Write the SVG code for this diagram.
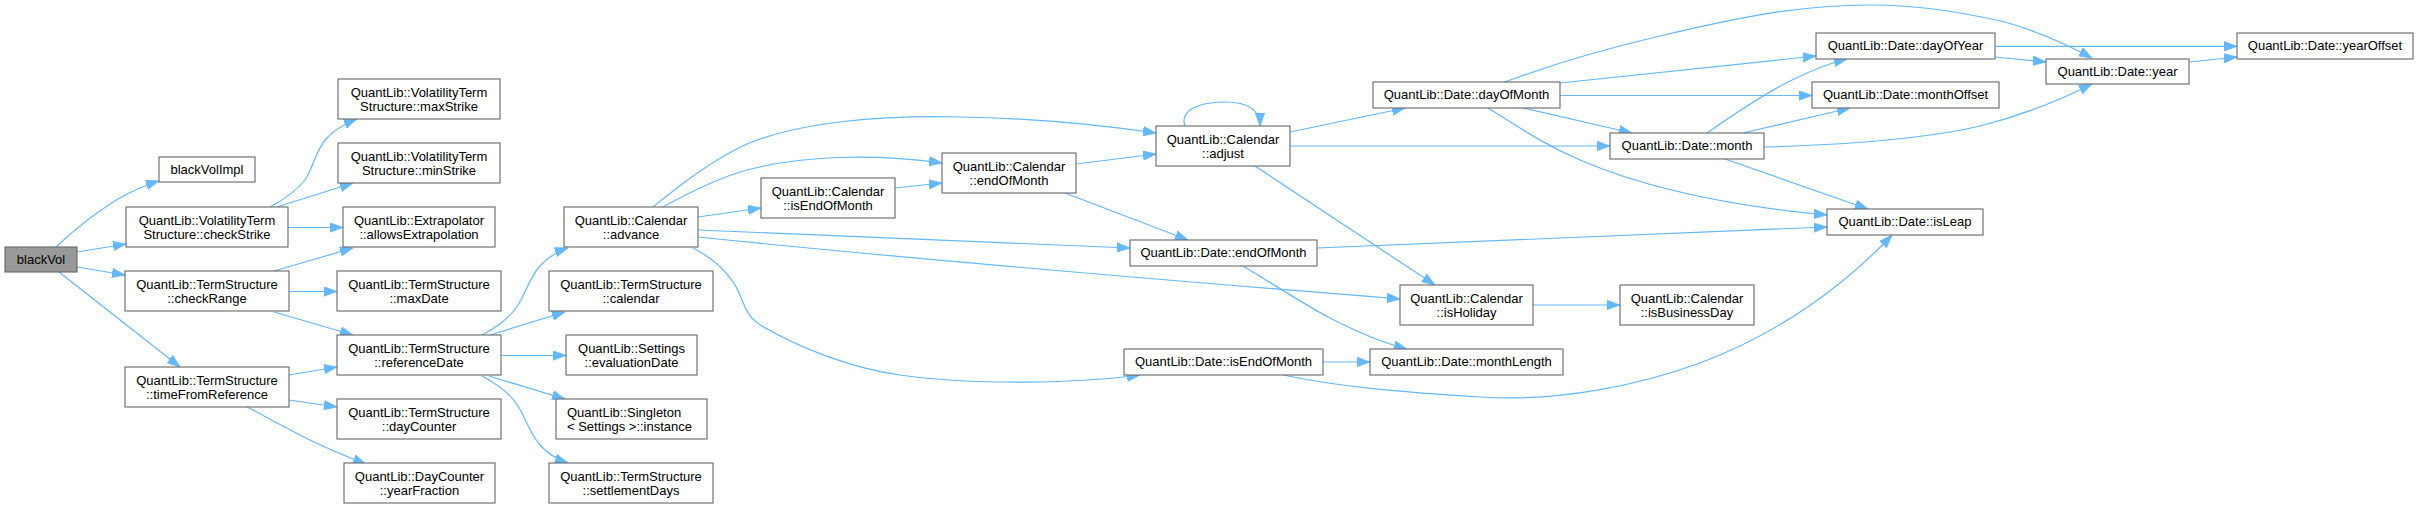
<svg xmlns="http://www.w3.org/2000/svg" width="2419" height="509" viewBox="0 0 2419 509">
<style>
.node rect{fill:#ffffff;stroke:#666666;stroke-width:1.1}
.node.root rect{fill:#999999}
.node text{font-family:"Liberation Sans",Arial,Helvetica,sans-serif;font-size:13px;fill:#000000;text-anchor:middle}
.node text.l{text-anchor:start}
#edges path{fill:none;stroke:#63b8ff;stroke-width:1.2;marker-end:url(#arr)}
</style>
<defs>
<marker id="arr" viewBox="0 0 13 10" refX="13" refY="5" markerWidth="13" markerHeight="10" markerUnits="userSpaceOnUse" orient="auto">
<path d="M0,0.3 L13,5 L0,9.7 Z" fill="#63b8ff" stroke="#63b8ff" stroke-width="0.8"/>
</marker>
</defs>
<rect x="0" y="0" width="2419" height="509" fill="#ffffff"/>
<g id="edges">
<path d="M56,247 C76,228 100,210 118,199 C130,192 143,186 159,181"/>
<path d="M77,252 L126,244"/>
<path d="M77,267 L125,275"/>
<path d="M59,272 L180,367"/>
<path d="M270,207 C285,199 297,190 305,180 C313,168 316,150 326,139 C333,131 342,125 357,119"/>
<path d="M277,207 L353,183"/>
<path d="M288,227.5 L343,227.5"/>
<path d="M274,271 L353,248"/>
<path d="M289,291.5 L337,291.5"/>
<path d="M274,312 L353,335"/>
<path d="M289,375 L337,367"/>
<path d="M289,400 L337,407"/>
<path d="M247,407 C268,418 292,431 310,440 C326,448 345,456 366,464"/>
<path d="M482,335 C497,327 510,318 518,305 C526,292 530,277 540,266 C547,258 556,252 568,248"/>
<path d="M490,335 L565,312"/>
<path d="M501,355.5 L566,355.5"/>
<path d="M489,376 L565,399"/>
<path d="M482,376 C497,384 510,393 518,406 C526,419 530,434 540,445 C547,453 556,459 568,463"/>
<path d="M653,207 C680,185 712,160 747,144 C800,122 880,115 960,117 C1030,118 1100,125 1156,133"/>
<path d="M663,207 C690,192 718,178 747,170 C800,156 870,153 942,163"/>
<path d="M698,217 L761,208"/>
<path d="M698,230 L1130,248"/>
<path d="M698,237 C900,258 1100,275 1400,299"/>
<path d="M693,248 C720,262 735,280 742,300 C748,315 752,320 762,326 C800,348 850,368 900,375 C980,386 1080,383 1140,375"/>
<path d="M895,188 L942,183"/>
<path d="M1076,164 L1156,154"/>
<path d="M1065,193 L1188,240"/>
<path d="M1185,126 C1180,112 1195,102 1225,102 C1245,102 1260,108 1260,126"/>
<path d="M1290,132 L1405,108"/>
<path d="M1290,146 L1610,146"/>
<path d="M1255,166 L1435,285"/>
<path d="M1317,248 L1827,227"/>
<path d="M1243,266 C1270,282 1305,305 1330,318 C1355,331 1380,342 1407,349"/>
<path d="M1323,362 L1370,362"/>
<path d="M1283,375 C1340,387 1400,392 1480,397 C1560,402 1640,385 1700,363 C1780,333 1845,285 1892,235"/>
<path d="M1560,83 L1816,56"/>
<path d="M1560,95.5 L1812,95.5"/>
<path d="M1523,108 L1632,133"/>
<path d="M1488,108 C1520,128 1545,145 1580,160 C1650,190 1740,207 1827,215"/>
<path d="M1502,83 C1550,65 1600,50 1660,36 C1740,17 1800,5 1870,5 C1920,5 1960,12 2005,22 C2040,32 2070,46 2092,58"/>
<path d="M1707,133 C1730,117 1760,96 1790,81 C1808,72 1826,64 1847,59"/>
<path d="M1743,133 L1850,108"/>
<path d="M1725,159 L1868,209"/>
<path d="M1764,147 C1840,145 1920,140 1980,126 C2020,116 2060,100 2092,84"/>
<path d="M1995,46.3 L2237,46.3"/>
<path d="M1995,57 L2046,62"/>
<path d="M2189,62 L2237,57"/>
<path d="M1533,305 L1620,305"/>
</g>
<g id="n_blackVol" class="node root"><rect x="5" y="247" width="72" height="25"/><text x="41" y="264">blackVol</text></g>
<g id="n_blackVolImpl" class="node"><rect x="159" y="157" width="96" height="25"/><text x="207" y="174">blackVolImpl</text></g>
<g id="n_checkStrike" class="node"><rect x="126" y="207" width="162" height="40"/><text x="207" y="224.5">QuantLib::VolatilityTerm</text><text x="207" y="238.5">Structure::checkStrike</text></g>
<g id="n_checkRange" class="node"><rect x="125" y="271" width="164" height="40"/><text x="207" y="288.5">QuantLib::TermStructure</text><text x="207" y="302.5">::checkRange</text></g>
<g id="n_timeFromReference" class="node"><rect x="125" y="367" width="164" height="40"/><text x="207" y="384.5">QuantLib::TermStructure</text><text x="207" y="398.5">::timeFromReference</text></g>
<g id="n_maxStrike" class="node"><rect x="338" y="79" width="162" height="40"/><text x="419" y="96.5">QuantLib::VolatilityTerm</text><text x="419" y="110.5">Structure::maxStrike</text></g>
<g id="n_minStrike" class="node"><rect x="338" y="143" width="162" height="40"/><text x="419" y="160.5">QuantLib::VolatilityTerm</text><text x="419" y="174.5">Structure::minStrike</text></g>
<g id="n_allowsExtrapolation" class="node"><rect x="343" y="207" width="152" height="40"/><text x="419" y="224.5">QuantLib::Extrapolator</text><text x="419" y="238.5">::allowsExtrapolation</text></g>
<g id="n_maxDate" class="node"><rect x="337" y="271" width="164" height="40"/><text x="419" y="288.5">QuantLib::TermStructure</text><text x="419" y="302.5">::maxDate</text></g>
<g id="n_referenceDate" class="node"><rect x="337" y="335" width="164" height="40"/><text x="419" y="352.5">QuantLib::TermStructure</text><text x="419" y="366.5">::referenceDate</text></g>
<g id="n_dayCounter" class="node"><rect x="337" y="399" width="164" height="40"/><text x="419" y="416.5">QuantLib::TermStructure</text><text x="419" y="430.5">::dayCounter</text></g>
<g id="n_yearFraction" class="node"><rect x="344" y="463" width="151" height="40"/><text x="419.5" y="480.5">QuantLib::DayCounter</text><text x="419.5" y="494.5">::yearFraction</text></g>
<g id="n_advance" class="node"><rect x="564" y="207" width="134" height="40"/><text x="631" y="224.5">QuantLib::Calendar</text><text x="631" y="238.5">::advance</text></g>
<g id="n_calendar" class="node"><rect x="549" y="271" width="164" height="40"/><text x="631" y="288.5">QuantLib::TermStructure</text><text x="631" y="302.5">::calendar</text></g>
<g id="n_evaluationDate" class="node"><rect x="566" y="335" width="131" height="40"/><text x="631.5" y="352.5">QuantLib::Settings</text><text x="631.5" y="366.5">::evaluationDate</text></g>
<g id="n_instance" class="node"><rect x="556" y="399" width="151" height="40"/><text class="l" x="567" y="416.5">QuantLib::Singleton</text><text class="l" x="567" y="430.5">&lt; Settings &gt;::instance</text></g>
<g id="n_settlementDays" class="node"><rect x="549" y="463" width="164" height="40"/><text x="631" y="480.5">QuantLib::TermStructure</text><text x="631" y="494.5">::settlementDays</text></g>
<g id="n_calIsEndOfMonth" class="node"><rect x="761" y="178" width="134" height="40"/><text x="828" y="195.5">QuantLib::Calendar</text><text x="828" y="209.5">::isEndOfMonth</text></g>
<g id="n_calEndOfMonth" class="node"><rect x="942" y="153" width="134" height="40"/><text x="1009" y="170.5">QuantLib::Calendar</text><text x="1009" y="184.5">::endOfMonth</text></g>
<g id="n_adjust" class="node"><rect x="1156" y="126" width="134" height="40"/><text x="1223" y="143.5">QuantLib::Calendar</text><text x="1223" y="157.5">::adjust</text></g>
<g id="n_dateEndOfMonth" class="node"><rect x="1130" y="240" width="187" height="26"/><text x="1223.5" y="257">QuantLib::Date::endOfMonth</text></g>
<g id="n_dateIsEndOfMonth" class="node"><rect x="1124" y="349" width="199" height="26"/><text x="1223.5" y="366">QuantLib::Date::isEndOfMonth</text></g>
<g id="n_dayOfMonth" class="node"><rect x="1373" y="82" width="187" height="26"/><text x="1466.5" y="99">QuantLib::Date::dayOfMonth</text></g>
<g id="n_isHoliday" class="node"><rect x="1400" y="285" width="133" height="40"/><text x="1466.5" y="302.5">QuantLib::Calendar</text><text x="1466.5" y="316.5">::isHoliday</text></g>
<g id="n_monthLength" class="node"><rect x="1370" y="349" width="193" height="26"/><text x="1466.5" y="366">QuantLib::Date::monthLength</text></g>
<g id="n_month" class="node"><rect x="1610" y="133" width="154" height="26"/><text x="1687" y="150">QuantLib::Date::month</text></g>
<g id="n_isBusinessDay" class="node"><rect x="1620" y="285" width="134" height="40"/><text x="1687" y="302.5">QuantLib::Calendar</text><text x="1687" y="316.5">::isBusinessDay</text></g>
<g id="n_dayOfYear" class="node"><rect x="1816" y="33" width="179" height="26"/><text x="1905.5" y="50">QuantLib::Date::dayOfYear</text></g>
<g id="n_monthOffset" class="node"><rect x="1812" y="82" width="187" height="26"/><text x="1905.5" y="99">QuantLib::Date::monthOffset</text></g>
<g id="n_isLeap" class="node"><rect x="1827" y="209" width="156" height="26"/><text x="1905" y="226">QuantLib::Date::isLeap</text></g>
<g id="n_year" class="node"><rect x="2046" y="59" width="143" height="25"/><text x="2117.5" y="76">QuantLib::Date::year</text></g>
<g id="n_yearOffset" class="node"><rect x="2237" y="33" width="176" height="26"/><text x="2325" y="50">QuantLib::Date::yearOffset</text></g>
</svg>
